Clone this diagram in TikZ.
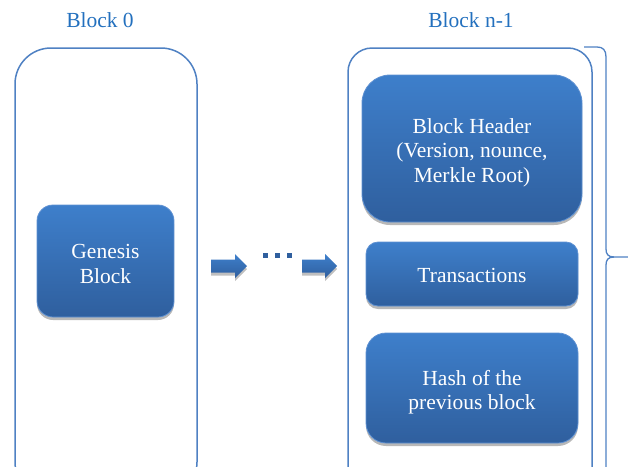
\documentclass[tikz,border=0pt]{standalone}
\usepackage{fontspec}
\setmainfont{Liberation Serif}
\usetikzlibrary{shadows}

\definecolor{lineblue}{RGB}{79,129,195}
\definecolor{titleblue}{RGB}{35,112,190}
\definecolor{topblue}{RGB}{62,127,203}
\definecolor{botblue}{RGB}{47,95,158}
\definecolor{edgeblue}{RGB}{95,145,210}

\tikzset{
  titletext/.style={text=titleblue, font=\fontsize{21.5}{25}\selectfont},
  outerbox/.style={draw=lineblue, line width=1.5pt, fill=white},
  innerbox/.style={draw=edgeblue, line width=0.8pt, top color=topblue, bottom color=botblue,
    drop shadow={shadow xshift=0pt, shadow yshift=-3pt, opacity=0.28, fill=black}},
  boxtext/.style={text=white, align=center, font=\fontsize{21.5}{24.5}\selectfont},
  arrowfill/.style={top color=topblue, bottom color=botblue, draw=none,
    drop shadow={shadow xshift=0pt, shadow yshift=-3pt, opacity=0.25, fill=black}},
  dotsq/.style={fill=botblue, minimum size=5pt, inner sep=0pt},
  bracepath/.style={draw=lineblue, line width=1.3pt}
}

\begin{document}
\begin{tikzpicture}[x=1pt,y=-1pt]
\useasboundingbox (0,0) rectangle (628,466);
\clip (0,0) rectangle (628,466);

% column titles
\node[titletext] (t0) at (100,20) {Block 0};
\node[titletext] (t1) at (471,20) {Block n-1};

% outer block frames (they run past the lower edge)
\node[outerbox, rounded corners=36pt, minimum width=182pt, minimum height=450pt] (blk0) at (106,273) {};
\node[outerbox, rounded corners=24pt, minimum width=244pt, minimum height=450pt] (blkn) at (470,273) {};

% genesis block
\node[innerbox, rounded corners=16pt, minimum width=137pt, minimum height=112pt] (gen) at (105.5,261) {};
\node[boxtext] (gentxt) at ([yshift=-3pt]gen.center) {Genesis\\Block};

% contents of block n-1
\node[innerbox, rounded corners=28pt, minimum width=220pt, minimum height=147pt] (hdr) at (472,148.5) {};
\node[boxtext] (hdrtxt) at ([yshift=-4pt]hdr.center) {Block Header\\(Version, nounce,\\Merkle Root)};
\node[innerbox, rounded corners=12pt, minimum width=212pt, minimum height=64pt] (tx) at (472,274) {};
\node[boxtext] (txtxt) at ([yshift=-1pt]tx.center) {Transactions};
\node[innerbox, rounded corners=20pt, minimum width=212pt, minimum height=110pt] (hash) at (472,388) {};
\node[boxtext] (hashtxt) at ([yshift=-4pt]hash.center) {Hash of the\\previous block};

% chain arrows with ellipsis between them
\coordinate (a1) at (211,266);
\coordinate (a2) at (302,266);
\path[arrowfill] (a1) ++(0,-6.5) -- ++(24,0) -- ++(0,-5.5) -- ++(12,12) -- ++(-12,12)
  -- ++(0,-5.5) -- ++(-24,0) -- cycle;
\path[arrowfill] (a2) ++(0,-6.5) -- ++(23,0) -- ++(0,-5.5) -- ++(12,12) -- ++(-12,12)
  -- ++(0,-5.5) -- ++(-23,0) -- cycle;
\node[dotsq] (d1) at (265,255) {};
\node[dotsq] (d2) at (277,255) {};
\node[dotsq] (d3) at (289,255) {};

% brace spanning block n-1
\coordinate (bt) at (584,47);
\coordinate (bm) at (628,257);
\draw[bracepath] (bt) -- (597,47) .. controls (603,47) and (606,50) .. (606,57)
  -- (606,249) .. controls (606,254) and (608,257) .. (614,257) -- (bm);
\draw[bracepath] (614,257) .. controls (608,257) and (606,260) .. (606,265) -- (606,470);
\end{tikzpicture}
\end{document}
